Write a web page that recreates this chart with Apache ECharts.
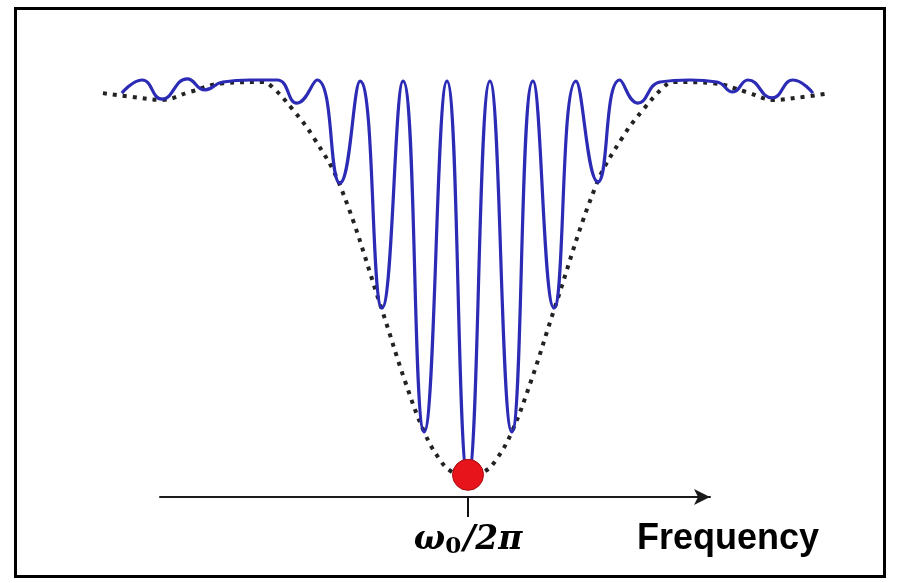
<!DOCTYPE html>
<html>
<head>
<meta charset="utf-8">
<script src="https://cdn.jsdelivr.net/npm/echarts@6/dist/echarts.min.js"></script>
<style>
  html, body { margin: 0; background: #fff; }
  #chart { width: 900px; height: 583px; }
</style>
</head>
<body>
<div id="chart"></div>
<script>
// x = frequency offset from the resonance, in fringe periods
// y = normalised transmission (0 at the resonance dip, 1 on the plateau)
var fringeFreq = [-8.05, -7.58, -7.12, -6.53, -6.12, -5.70, -5.07, -4.44, -3.98, -3.51,
                  -2.98, -2.51, -2.0, -1.51, -1.02, -0.49, 0,
                  0.51, 1.02, 1.51, 2.0, 2.51, 3.02, 3.53, 3.95, 4.47, 5.16,
                  5.79, 6.16, 6.51, 7.07, 7.56, 8.02];
var fringeLevel = [0.967, 1.0, 0.952, 1.003, 0.975, 0.995, 1.0, 1.0, 0.942, 1.0,
                   0.741, 0.997, 0.427, 0.997, 0.116, 0.997, 0,
                   0.997, 0.116, 0.997, 0.427, 0.997, 0.744, 1.0, 0.942, 0.995, 1.0,
                   0.995, 0.970, 1.0, 0.955, 1.0, 0.967];

var envelopeFreq = [-8.49, -7.63, -7.12, -6.47, -5.70, -4.77, -4.53, -4.07, -3.60, -2.98,
                    -2.0, -1.47, -1.02, -0.65, -0.37, 0,
                    0.37, 0.65, 1.02, 1.47, 2.0, 2.98, 3.60, 4.07, 4.53, 4.77,
                    5.70, 6.47, 7.12, 7.63, 8.42];
var envelopeLevel = [0.967, 0.955, 0.95, 0.970, 0.992, 0.995, 0.980, 0.925, 0.857, 0.736,
                     0.422, 0.245, 0.116, 0.045, 0.015, 0,
                     0.015, 0.045, 0.116, 0.245, 0.422, 0.736, 0.857, 0.925, 0.980, 0.995,
                     0.992, 0.970, 0.95, 0.955, 0.967];

var centerFreq = [0];
var centerLevel = [0.008];

var tickValues = [0];
var tickLabels = ['{w|ω}{s|0}{w|/2π}'];
var axisTitle = 'Frequency';

function pairs(xs, ys) {
    return xs.map(function (x, i) { return [x, ys[i]]; });
}

var chart = echarts.init(document.getElementById('chart'));

var option = {
    animation: false,
    backgroundColor: '#fff',
    grid: [
        // curve area: one unit of x = 43px, one unit of y = 398px
        { left: 102.5, width: 731, top: 40.2, height: 477.6 },
        // the frequency arrow
        { left: 160, right: 190, top: 40, bottom: 86 }
    ],
    xAxis: [
        { gridIndex: 0, type: 'value', min: -8.5, max: 8.5, show: false },
        {
            gridIndex: 1, type: 'value', min: -7.163, max: 5.628,
            splitLine: { show: false },
            axisLine: {
                show: true,
                symbol: ['none', 'arrow'],
                symbolSize: [12, 16],
                lineStyle: { color: '#1a1a1a', width: 2 }
            },
            axisTick: {
                show: true, customValues: tickValues, length: 20,
                lineStyle: { color: '#111', width: 2 }
            },
            axisLabel: {
                show: true, customValues: tickValues, margin: 25,
                formatter: function (v) { return tickLabels[tickValues.indexOf(v)] || ''; },
                rich: {
                    w: { fontFamily: 'DejaVu Serif', fontStyle: 'italic', fontWeight: 'bold', fontSize: 33, color: '#000' },
                    s: { fontFamily: 'DejaVu Serif', fontWeight: 'bold', fontSize: 23, color: '#000', padding: [14, 2, 0, 0] }
                }
            }
        }
    ],
    yAxis: [
        { gridIndex: 0, type: 'value', min: -0.1, max: 1.1, show: false },
        { gridIndex: 1, type: 'value', min: 0, max: 1, show: false }
    ],
    series: [
        {
            type: 'line', xAxisIndex: 0, yAxisIndex: 0,
            data: pairs(envelopeFreq, envelopeLevel),
            smooth: 0.4, symbol: 'none', clip: false,
            lineStyle: { color: '#222', width: 4, type: [4, 6] },
            z: 2
        },
        {
            type: 'line', xAxisIndex: 0, yAxisIndex: 0,
            data: pairs(fringeFreq, fringeLevel),
            smooth: 0.5, symbol: 'none', clip: false,
            lineStyle: { color: '#2b2bb5', width: 3.2 },
            z: 3
        },
        {
            type: 'scatter', xAxisIndex: 0, yAxisIndex: 0,
            data: pairs(centerFreq, centerLevel),
            symbolSize: 31,
            itemStyle: { color: '#e8141c', opacity: 1, borderColor: '#a80c10', borderWidth: 1 },
            z: 5
        }
    ],
    graphic: [
        {
            type: 'rect', silent: true,
            shape: { x: 15.5, y: 8.5, width: 869, height: 568 },
            style: { fill: 'none', stroke: '#000', lineWidth: 3 }
        },
        {
            type: 'text', silent: true,
            style: {
                text: axisTitle, x: 637, y: 539,
                font: 'bold 36px "Liberation Sans", Arial, sans-serif',
                fill: '#000', verticalAlign: 'middle'
            }
        }
    ]
};

chart.setOption(option);
</script>
</body>
</html>
